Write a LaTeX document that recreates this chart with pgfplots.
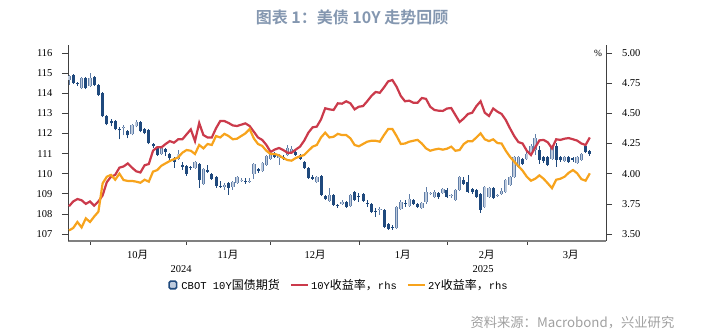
\documentclass[border=0pt]{standalone}
\usepackage{fontspec}
\usepackage{pgfplots}
\pgfplotsset{compat=1.18}
\usepackage{pgfplotstable}
\setmainfont{Liberation Serif}
\newfontfamily\cjk{Noto Sans CJK SC}
\newfontfamily\cjkb{Noto Sans CJK SC Bold}
\newfontfamily\mono{Liberation Mono}
\definecolor{navy}{RGB}{31,73,125}
\definecolor{lightc}{RGB}{190,203,221}
\definecolor{lightb}{RGB}{96,126,168}
\definecolor{redl}{RGB}{203,58,75}
\definecolor{orl}{RGB}{247,163,28}
\definecolor{titlec}{RGB}{132,151,176}
\definecolor{srcc}{RGB}{160,160,160}
\definecolor{axdark}{RGB}{64,64,64}
\definecolor{axgrey}{RGB}{128,128,128}

\pgfplotstableread{
i o h l c
-5 114.65 114.90 114.40 114.85
-2 114.25 114.80 114.20 114.75
0 114.35 115.00 114.30 114.75
8 112.25 112.40 111.90 112.30
10 111.95 112.45 111.90 112.40
11 112.35 112.65 112.30 112.55
17 111.00 111.35 110.95 111.30
21 110.75 111.20 110.70 111.00
25 110.30 110.65 110.25 110.60
27 109.50 110.30 109.45 110.25
32 109.35 109.55 109.20 109.45
34 109.35 109.65 109.20 109.60
35 109.55 109.90 109.50 109.85
36 109.65 109.80 109.60 109.70
38 109.60 109.80 109.55 109.65
39 110.00 110.55 109.75 110.50
41 110.15 110.60 110.10 110.55
42 110.45 110.95 110.40 110.90
43 110.75 111.10 110.70 111.00
45 110.80 111.00 110.45 110.95
47 110.95 111.40 110.90 111.30
48 111.10 111.35 111.05 111.25
54 109.60 109.90 109.55 109.85
57 108.65 109.30 108.60 108.95
60 108.50 108.70 108.45 108.60
62 108.40 109.00 108.35 108.95
69 108.20 108.35 107.95 108.25
73 107.30 108.40 107.25 108.35
74 108.25 108.70 108.20 108.60
76 108.40 109.00 108.35 108.75
79 108.30 108.60 108.25 108.55
80 108.60 109.35 108.50 109.10
81 109.00 109.10 108.95 109.05
82 108.85 109.20 108.80 109.10
84 109.05 109.30 109.00 109.25
86 108.90 109.00 108.80 108.95
87 108.70 109.25 108.65 109.20
88 109.20 109.90 109.15 109.85
94 108.35 109.40 108.30 109.35
95 108.85 109.35 108.80 109.30
97 108.90 109.00 108.85 108.95
98 109.00 109.30 108.95 109.15
99 109.10 109.75 109.05 109.70
100 109.45 109.90 109.40 109.85
101 109.85 110.90 109.80 110.85
102 110.35 110.90 110.30 110.85
104 110.75 111.10 110.70 111.00
105 111.05 111.45 111.00 111.35
106 111.20 111.95 110.95 111.75
110 110.75 111.40 110.70 111.35
113 110.65 110.90 110.60 110.85
116 110.55 110.90 110.50 110.85
117 110.70 111.05 110.65 111.00
}\upc

\pgfplotstableread{
i o h l c
-4 114.90 114.95 114.45 114.50
-3 114.50 114.55 114.35 114.45
-1 114.75 114.80 114.20 114.25
1 114.80 114.85 114.35 114.40
2 114.40 114.45 113.85 113.90
3 114.00 114.05 112.80 112.85
4 112.85 112.90 112.40 112.45
5 112.60 112.70 112.35 112.50
6 112.60 112.65 112.15 112.20
7 112.20 112.30 111.70 112.15
9 112.10 112.15 111.75 111.90
12 112.55 112.60 112.05 112.10
13 112.20 112.25 111.95 112.00
14 112.15 112.20 111.45 111.50
15 111.45 111.50 111.30 111.35
16 111.30 111.35 110.90 110.95
18 111.25 111.30 110.90 111.10
19 111.00 111.05 110.70 110.80
20 110.80 110.85 110.30 110.60
22 110.45 110.60 110.20 110.35
23 110.40 110.45 109.90 110.00
24 110.35 110.40 110.20 110.30
26 110.50 110.55 109.30 109.70
28 110.20 110.45 110.05 110.10
29 110.00 110.05 109.70 109.75
30 109.85 109.90 109.30 109.40
31 109.40 109.65 109.30 109.35
33 109.55 109.60 108.95 109.30
37 109.65 109.80 109.50 109.60
40 110.25 110.30 110.05 110.15
44 111.00 111.10 110.80 110.85
46 110.85 110.95 110.70 110.75
49 111.10 111.15 110.90 110.95
50 110.95 111.00 110.70 110.75
51 110.60 110.65 110.25 110.30
52 110.30 110.35 109.75 109.80
53 109.85 109.95 109.70 109.75
55 109.90 109.95 108.90 108.95
56 108.90 108.95 108.70 108.75
58 108.95 109.00 108.40 108.45
59 108.45 108.50 108.30 108.40
61 108.60 108.65 108.30 108.35
63 109.10 109.15 108.65 108.70
64 108.90 109.05 108.60 108.85
65 109.00 109.05 108.60 108.65
66 108.55 108.70 108.35 108.50
67 108.50 108.55 108.05 108.10
68 108.15 108.30 107.85 108.10
70 108.20 108.25 107.30 107.35
71 107.50 107.55 107.20 107.25
72 107.35 107.45 107.20 107.30
75 108.55 108.70 108.35 108.50
77 108.70 108.75 108.45 108.50
78 108.50 108.55 108.30 108.35
83 109.05 109.10 108.75 108.85
85 109.20 109.30 108.80 108.85
89 109.70 109.85 109.45 109.50
90 109.60 109.95 109.05 109.10
91 109.25 109.30 109.00 109.10
92 109.20 109.25 108.80 108.85
93 109.00 109.05 108.05 108.20
96 109.30 109.35 108.75 108.80
103 110.75 110.80 110.45 110.50
107 111.20 111.35 110.50 110.70
108 110.85 110.90 110.55 110.65
109 110.85 110.90 110.40 110.45
111 111.35 111.50 110.35 110.70
112 110.85 110.90 110.60 110.70
114 110.85 110.90 110.55 110.60
115 110.80 110.85 110.60 110.70
118 111.35 111.40 111.05 111.10
119 111.15 111.20 110.90 111.00
}\downc

\pgfplotstableread{
i y10 y2
-5 3.73 3.53
-4 3.77 3.55
-3 3.79 3.60
-2 3.78 3.555
-1 3.75 3.63
0 3.77 3.60
1 3.735 3.645
2 3.77 3.685
3 3.82 3.92
4 3.93 3.975
5 3.975 3.99
6 3.99 3.95
7 4.05 4.00
8 4.06 3.947
9 4.085 3.94
10 4.05 3.94
11 4.02 3.934
12 4.01 3.925
13 4.07 3.95
14 4.08 3.934
15 4.19 4.017
16 4.22 4.03
17 4.218 4.066
18 4.246 4.086
19 4.27 4.105
20 4.257 4.12
21 4.285 4.135
22 4.285 4.174
23 4.326 4.196
24 4.367 4.19
25 4.27 4.163
26 4.42 4.238
27 4.32 4.21
28 4.30 4.246
29 4.30 4.238
30 4.376 4.312
31 4.436 4.30
32 4.436 4.33
33 4.42 4.312
34 4.40 4.285
35 4.395 4.29
36 4.406 4.312
37 4.417 4.334
38 4.395 4.37
39 4.348 4.293
40 4.30 4.246
41 4.28 4.23
42 4.238 4.19
43 4.18 4.163
44 4.20 4.163
45 4.213 4.152
46 4.196 4.13
47 4.174 4.113
48 4.174 4.108
49 4.20 4.13
50 4.224 4.144
51 4.274 4.155
52 4.34 4.19
53 4.384 4.224
54 4.39 4.238
55 4.45 4.30
56 4.542 4.34
57 4.533 4.30
58 4.528 4.306
59 4.583 4.33
60 4.58 4.32
61 4.60 4.32
62 4.583 4.293
63 4.533 4.238
64 4.555 4.227
65 4.56 4.246
66 4.60 4.265
67 4.644 4.273
68 4.677 4.273
69 4.67 4.265
70 4.715 4.32
71 4.765 4.37
72 4.776 4.37
73 4.72 4.312
74 4.644 4.246
75 4.60 4.25
76 4.605 4.265
77 4.588 4.273
78 4.588 4.28
79 4.627 4.25
80 4.62 4.21
81 4.555 4.19
82 4.528 4.20
83 4.522 4.207
84 4.52 4.199
85 4.54 4.207
86 4.544 4.224
87 4.486 4.19
88 4.428 4.196
89 4.458 4.246
90 4.495 4.27
91 4.505 4.268
92 4.56 4.30
93 4.60 4.334
94 4.505 4.285
95 4.478 4.27
96 4.54 4.285
97 4.514 4.254
98 4.495 4.25
99 4.445 4.19
100 4.376 4.14
101 4.312 4.10
102 4.262 4.063
103 4.25 4.025
104 4.19 3.975
105 4.155 3.942
106 4.218 3.958
107 4.276 3.986
108 4.28 3.958
109 4.26 3.92
110 4.21 3.88
111 4.285 3.95
112 4.28 3.958
113 4.29 3.975
114 4.295 4.008
115 4.285 4.03
116 4.274 4.003
117 4.25 3.955
118 4.238 3.942
119 4.30 4.003
}\yields

\begin{document}
\begin{tikzpicture}
\useasboundingbox (0pt,0pt) rectangle (712pt,336pt);

\begin{axis}[
  at={(68pt,95pt)}, anchor=south west, scale only axis,
  width=538pt, height=196pt,
  xmin=-5.24, xmax=122.86, ymin=106.651, ymax=116.398,
  axis x line*=bottom, axis y line*=left,
  x axis line style={draw=axgrey, line width=2pt},
  y axis line style={draw=axdark, line width=0.8pt},
  tick align=outside,
  major tick length=6pt,
  ytick={107,108,...,116},
  ytick style={draw=axdark, line width=0.6pt},
  xtick={0,22.86,42.86,85,104.05}, xticklabels={},
  xtick style={draw=axdark, line width=0.7pt, /pgfplots/major tick length=4pt},
  extra x ticks={64.05}, extra x tick labels={},
  extra x tick style={/pgfplots/major tick length=6.5pt},
  /pgf/number format/assume math mode=true,
  yticklabel style={font=\fontsize{10.5}{12}\selectfont, xshift=-6pt},
]
% wicks
\addplot[draw=none, mark=none, forget plot,
  error bars/.cd, y dir=plus, y explicit, error mark=none,
  error bar style={draw=navy, line width=0.9pt}]
  table[x=i, y=l, y error expr=\thisrow{h}-\thisrow{l}] {\downc};
\addplot[draw=none, mark=none, forget plot,
  error bars/.cd, y dir=plus, y explicit, error mark=none,
  error bar style={draw=lightb, line width=0.9pt}]
  table[x=i, y=l, y error expr=\thisrow{h}-\thisrow{l}] {\upc};
% bodies
\addplot[draw=none, mark=none, forget plot,
  error bars/.cd, y dir=plus, y explicit, error mark=none,
  error bar style={draw=navy, line width=3pt}]
  table[x=i, y=c, y error expr=\thisrow{o}-\thisrow{c}] {\downc};
\addplot[draw=none, mark=none, forget plot,
  error bars/.cd, y dir=plus, y explicit, error mark=none,
  error bar style={draw=lightb, line width=3.4pt}]
  table[x=i, y=o, y error expr=\thisrow{c}-\thisrow{o}] {\upc};
\addplot[draw=none, mark=none, forget plot,
  error bars/.cd, y dir=plus, y explicit, error mark=none,
  error bar style={draw=lightc, line width=1.5pt}]
  table[x=i, y=o, y error expr=\thisrow{c}-\thisrow{o}] {\upc};
\end{axis}

\begin{axis}[
  at={(68pt,95pt)}, anchor=south west, scale only axis,
  width=538pt, height=196pt,
  xmin=-5.24, xmax=122.86, ymin=3.4424, ymax=5.0663,
  axis x line=none, axis y line*=right,
  y axis line style={draw=axdark, line width=1pt},
  tick align=outside,
  major tick length=6pt,
  ytick={3.5,3.75,4,4.25,4.5,4.75,5},
  ytick style={draw=axdark, line width=0.6pt},
  /pgf/number format/assume math mode=true,
  yticklabel style={font=\fontsize{10.5}{12}\selectfont, xshift=6.5pt,
    /pgf/number format/.cd, fixed, fixed zerofill, precision=2},
  legend style={at={(0.5037,-0.2245)}, anchor=center, draw=none, fill=none,
    font=\fontsize{10.5}{12}\selectfont, inner sep=0pt,
    /tikz/every even column/.append style={column sep=8pt}},
  legend columns=3, legend cell align=left,
]
\addlegendimage{legend image code/.code={\draw[draw=navy, line width=1.6pt, fill=lightc, rounded corners=1.5pt] (0pt,-3.8pt) rectangle (7.5pt,3.8pt);}}
\addlegendentry{\hspace{2pt}{\mono CBOT 10Y}{\cjk\fontsize{12}{12}\selectfont 国债期货}}
\addplot[redl, line width=2.2pt, mark=none] table[x=i, y=y10] {\yields};
\addlegendentry{{\mono 10Y}{\cjk\fontsize{12}{12}\selectfont 收益率，}{\mono rhs}}
\addplot[orl, line width=2.2pt, mark=none] table[x=i, y=y2] {\yields};
\addlegendentry{{\mono 2Y}{\cjk\fontsize{12}{12}\selectfont 收益率，}{\mono rhs}}
\end{axis}

\node[font=\fontsize{9.5}{11}\selectfont] at (598pt,283pt) {\%};
\begin{scope}[every node/.style={font=\fontsize{10.5}{12}\selectfont}]
\node at (137.7pt,81pt) {10{\cjk 月}};
\node at (228pt,81pt) {11{\cjk 月}};
\node at (315pt,81pt) {12{\cjk 月}};
\node at (402.7pt,81pt) {1{\cjk 月}};
\node at (486.7pt,81pt) {2{\cjk 月}};
\node at (570.7pt,81pt) {3{\cjk 月}};
\node at (181pt,67pt) {2024};
\node at (483pt,67pt) {2025};
\end{scope}
\node[font=\cjkb\fontsize{16}{18}\selectfont, text=titlec] at (352pt,319pt) {图表 1：美债 10Y 走势回顾};
\node[anchor=west, font=\cjk\fontsize{13.3}{15}\selectfont, text=srcc] at (467pt,13.5pt) {资料来源：Macrobond，兴业研究};
\end{tikzpicture}
\end{document}
